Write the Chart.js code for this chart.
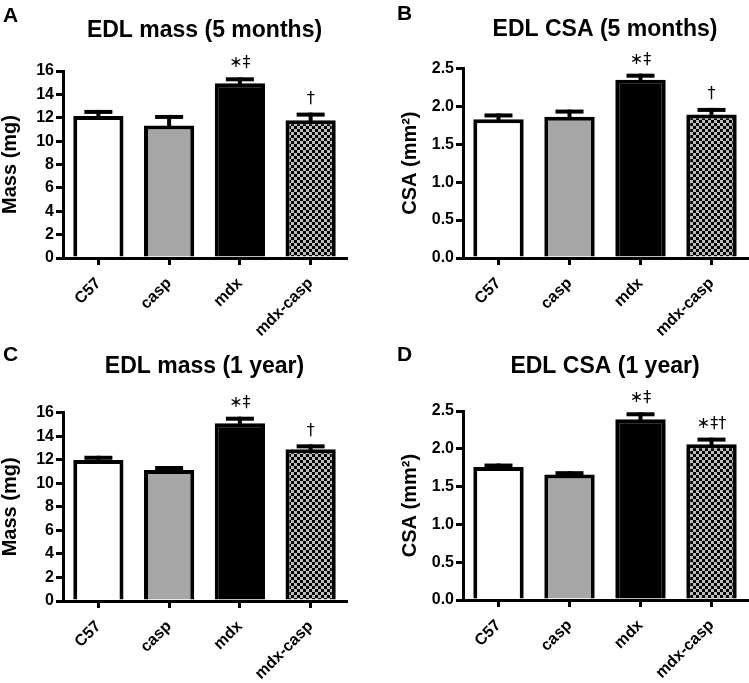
<!DOCTYPE html>
<html><head><meta charset="utf-8">
<script src="https://cdn.jsdelivr.net/npm/chart.js@4.4.1/dist/chart.umd.min.js"></script>
<style>
html,body{margin:0;padding:0;background:#fff;}
#wrap{position:relative;width:749px;height:683px;background:#fff;}
canvas{position:absolute;display:block;}
</style></head><body>
<div id="wrap">
<canvas id="cA" width="375" height="340" style="left:0;top:0"></canvas>
<canvas id="cB" width="374" height="340" style="left:375px;top:0"></canvas>
<canvas id="cC" width="375" height="343" style="left:0;top:340px"></canvas>
<canvas id="cD" width="374" height="343" style="left:375px;top:340px"></canvas>
</div>
<script>
// ---------- data ----------
const categories = ['C57', 'casp', 'mdx', 'mdx-casp'];
const massTickLabels = ['0', '2', '4', '6', '8', '10', '12', '14', '16'];
const csaTickLabels = ['0.0', '0.5', '1.0', '1.5', '2.0', '2.5'];

const mass5Months    = [12.16, 11.33, 14.95, 11.79];
const mass5MonthsSem = [0.51, 0.91, 0.51, 0.65];
const csa5Months     = [1.83, 1.86, 2.35, 1.89];
const csa5MonthsSem  = [0.075, 0.096, 0.079, 0.088];
const mass1Year      = [11.98, 11.13, 15.10, 12.89];
const mass1YearSem   = [0.36, 0.34, 0.56, 0.42];
const csa1Year       = [1.76, 1.66, 2.39, 2.06];
const csa1YearSem    = [0.045, 0.044, 0.093, 0.088];

const marksMass5Months = ['', '', '\u2217\u2021', '\u2020'];
const marksCsa5Months  = ['', '', '\u2217\u2021', '\u2020'];
const marksMass1Year   = ['', '', '\u2217\u2021', '\u2020'];
const marksCsa1Year    = ['', '', '\u2217\u2021', '\u2217\u2021\u2020'];

const panelLetters = ['A', 'B', 'C', 'D'];
const panelTitles = ['EDL mass (5 months)', 'EDL CSA (5 months)', 'EDL mass (1 year)', 'EDL CSA (1 year)'];
const yTitles = ['Mass (mg)', 'CSA (mm\u00B2)', 'Mass (mg)', 'CSA (mm\u00B2)'];

// ---------- styles ----------
Chart.defaults.font.family = '"Liberation Sans", Arial, sans-serif';
Chart.defaults.color = '#000';

function checker() {
  const c = document.createElement('canvas');
  c.width = 6; c.height = 6;
  const g = c.getContext('2d');
  g.fillStyle = '#bcbcbc'; g.fillRect(0, 0, 6, 6);
  g.fillStyle = '#000'; g.fillRect(0, 0, 3, 3); g.fillRect(3, 3, 3, 3);
  return g.createPattern(c, 'repeat');
}

function makeChart(id, cfg) {
  const ctx = document.getElementById(id).getContext('2d');
  const fills = ['#ffffff', '#a6a6a6', '#000000', checker()];
  const overlay = {
    id: 'overlay_' + id,
    afterDatasetsDraw(chart) {
      const c = chart.ctx, xs = chart.scales.x, ys = chart.scales.y;
      c.save();
      c.fillStyle = '#000';
      for (let i = 0; i < cfg.values.length; i++) {
        const cx = xs.getPixelForValue(i);
        const yb = ys.getPixelForValue(cfg.values[i]);
        const yt = ys.getPixelForValue(cfg.values[i] + cfg.sem[i]);
        c.fillRect(cx - 2, yt, 4, yb - yt + 2);
        c.fillRect(cx - 14, yt, 28, 4);
        if (cfg.marks[i]) {
          c.font = '16px "DejaVu Sans", "Liberation Sans", sans-serif';
          c.textAlign = 'center';
          c.textBaseline = 'middle';
          c.fillText(cfg.marks[i], cx, yt - 14);
        }
      }
      c.restore();
    },
    afterDraw(chart) {
      const c = chart.ctx;
      c.save();
      c.fillStyle = '#000';
      c.font = 'bold 21px "Liberation Sans", Arial, sans-serif';
      c.textAlign = 'left';
      c.textBaseline = 'alphabetic';
      c.fillText(cfg.letter, cfg.letterX, cfg.letterY);
      c.restore();
    }
  };
  return new Chart(ctx, {
    type: 'bar',
    data: {
      labels: categories,
      datasets: [{
        data: cfg.values,
        backgroundColor: fills,
        borderColor: '#000',
        borderWidth: 4,
        borderSkipped: 'start',
        barPercentage: 0.71,
        categoryPercentage: 1.0
      }]
    },
    options: {
      responsive: false,
      animation: false,
      devicePixelRatio: 1,
      layout: { padding: { left: cfg.padLeft, right: cfg.padRight, top: 0, bottom: 0 } },
      plugins: {
        legend: { display: false },
        tooltip: { enabled: false },
        title: {
          display: true,
          text: cfg.title,
          fullSize: false,
          color: '#000',
          font: { size: 23, weight: 'bold', lineHeight: 1.2 },
          padding: { top: cfg.titleTop, bottom: cfg.titleBottom }
        }
      },
      scales: {
        x: {
          offset: true,
          afterFit(s) { s.height = cfg.xHeight; },
          border: { display: true, color: '#000', width: 3 },
          grid: { offset: false, drawOnChartArea: false, drawTicks: true, tickLength: 7, color: '#000', lineWidth: 3 },
          ticks: { color: '#000', font: { size: 16, weight: 'bold' }, minRotation: 45, maxRotation: 45, padding: 9, autoSkip: false }
        },
        y: {
          min: 0,
          max: cfg.max,
          afterFit(s) { s.width = 63; },
          border: { display: true, color: '#000', width: 3 },
          grid: { drawOnChartArea: false, drawTicks: true, tickLength: 7, color: '#000', lineWidth: 3 },
          ticks: {
            stepSize: cfg.step, color: '#000', padding: 2,
            font: { size: 16, weight: 'bold' },
            callback: (v, i) => cfg.tickLabels[i]
          },
          title: {
            display: true, text: cfg.yTitle, color: '#000',
            font: { size: 20, weight: 'bold', lineHeight: 1 },
            padding: { top: 0, bottom: 0 }
          }
        }
      }
    },
    plugins: [overlay]
  });
}

makeChart('cA', { values: mass5Months, sem: mass5MonthsSem, marks: marksMass5Months,
  letter: panelLetters[0], letterX: 3, letterY: 22, title: panelTitles[0], yTitle: yTitles[0],
  max: 16, step: 2, tickLabels: massTickLabels,
  padLeft: 0, padRight: 29, titleTop: 17.2, titleBottom: 26.2, xHeight: 82 });

makeChart('cB', { values: csa5Months, sem: csa5MonthsSem, marks: marksCsa5Months,
  letter: panelLetters[1], letterX: 22, letterY: 20, title: panelTitles[1], yTitle: yTitles[1],
  max: 2.5, step: 0.5, tickLabels: csaTickLabels,
  padLeft: 25, padRight: 2, titleTop: 16.2, titleBottom: 24.5, xHeight: 82 });

makeChart('cC', { values: mass1Year, sem: mass1YearSem, marks: marksMass1Year,
  letter: panelLetters[2], letterX: 3, letterY: 21, title: panelTitles[2], yTitle: yTitles[2],
  max: 16, step: 2, tickLabels: massTickLabels,
  padLeft: 0, padRight: 29, titleTop: 12.9, titleBottom: 32.2, xHeight: 82 });

makeChart('cD', { values: csa1Year, sem: csa1YearSem, marks: marksCsa1Year,
  letter: panelLetters[3], letterX: 22, letterY: 21, title: panelTitles[3], yTitle: yTitles[3],
  max: 2.5, step: 0.5, tickLabels: csaTickLabels,
  padLeft: 25, padRight: 2, titleTop: 12.9, titleBottom: 30.5, xHeight: 83 });
</script>
</body></html>
